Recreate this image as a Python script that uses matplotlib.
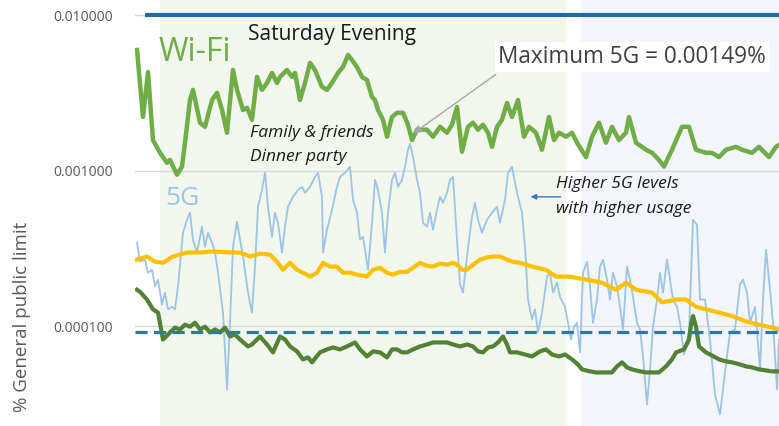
import matplotlib
matplotlib.use("Agg")
import matplotlib.pyplot as plt
from matplotlib.ticker import NullLocator

plt.rcParams['font.family'] = ['Open Sans', 'DejaVu Sans']

# time axis: sample index across the evening (0 .. 644)
wifi_t = [2, 8, 13, 18, 25, 32, 35, 42, 47, 50,
          55, 58, 65, 70, 77, 82, 87, 92, 98, 102,
          108, 112, 117, 122, 127, 132, 137, 142, 145, 152,
          157, 160, 165, 170, 175, 180, 187, 192, 197, 203,
          208, 213, 217, 222, 227, 232, 237, 240, 243, 248,
          252, 257, 262, 268, 273, 277, 282, 287, 292, 298,
          305, 312, 317, 322, 327, 333, 338, 343, 348, 353,
          357, 362, 367, 372, 377, 383, 389, 394, 401, 407,
          414, 419, 424, 431, 437, 442, 451, 457, 464, 471,
          477, 484, 491, 494, 501, 511, 517, 524, 529, 537,
          547, 554, 561, 571, 577, 584, 591, 601, 607, 617,
          624, 634, 641, 644]
wifi_v = [0.00596, 0.00221, 0.00430, 0.00157, 0.00130, 0.00112, 0.00117, 0.00094, 0.00106, 0.00151,
          0.00284, 0.00330, 0.00203, 0.00191, 0.00284, 0.00316, 0.00245, 0.00175, 0.00443, 0.00330,
          0.00245, 0.00253, 0.00212, 0.00400, 0.00330, 0.00366, 0.00424, 0.00366, 0.00400, 0.00443,
          0.00400, 0.00424, 0.00284, 0.00366, 0.00492, 0.00443, 0.00345, 0.00330, 0.00366, 0.00424,
          0.00463, 0.00553, 0.00514, 0.00463, 0.00400, 0.00382, 0.00297, 0.00284, 0.00245, 0.00212,
          0.00165, 0.00221, 0.00235, 0.00235, 0.00197, 0.00157, 0.00183, 0.00183, 0.00183, 0.00165,
          0.00191, 0.00175, 0.00197, 0.00256, 0.00132, 0.00191, 0.00203, 0.00183, 0.00197, 0.00175,
          0.00142, 0.00191, 0.00212, 0.00272, 0.00221, 0.00284, 0.00165, 0.00191, 0.00175, 0.00136,
          0.00221, 0.00157, 0.00175, 0.00165, 0.00175, 0.00151, 0.00122, 0.00165, 0.00203, 0.00151,
          0.00191, 0.00157, 0.00175, 0.00221, 0.00151, 0.00136, 0.00130, 0.00117, 0.00106, 0.00136,
          0.00191, 0.00191, 0.00136, 0.00130, 0.00130, 0.00122, 0.00136, 0.00142, 0.00136, 0.00130,
          0.00142, 0.00122, 0.00142, 0.00146]

g5_t = [2, 5, 10, 13, 17, 20, 23, 27, 30, 33,
        37, 40, 43, 48, 52, 55, 58, 62, 67, 70,
        73, 77, 80, 83, 88, 92, 95, 98, 102, 105,
        108, 113, 117, 120, 123, 127, 130, 133, 137, 140,
        143, 147, 150, 153, 158, 163, 167, 170, 175, 180,
        183, 187, 188, 192, 197, 202, 205, 210, 215, 218,
        222, 225, 228, 233, 237, 240, 243, 247, 250, 253,
        257, 260, 263, 267, 270, 273, 275, 278, 282, 285,
        288, 292, 295, 298, 302, 305, 308, 312, 315, 318,
        322, 325, 328, 332, 337, 340, 343, 347, 352, 357,
        362, 365, 370, 373, 377, 380, 383, 387, 390, 393,
        397, 400, 403, 407, 412, 415, 418, 422, 425, 430,
        433, 436, 439, 442, 445, 448, 452, 455, 458, 462,
        465, 468, 472, 475, 478, 482, 485, 488, 492, 495,
        498, 502, 505, 508, 512, 515, 518, 522, 525, 528,
        532, 535, 538, 542, 545, 549, 554, 558, 562, 565,
        570, 575, 580, 585, 590, 595, 600, 605, 608, 612,
        615, 620, 625, 628, 631, 635, 638, 642, 644]
g5_v = [0.000344, 0.000259, 0.000267, 0.000220, 0.000230, 0.000180, 0.000199, 0.000137, 0.000164, 0.000128,
        0.000133, 0.000128, 0.000180, 0.000398, 0.000482, 0.000535, 0.000359, 0.000297, 0.000435, 0.000323,
        0.000398, 0.000344, 0.000297, 0.000220, 0.000122, 0.0000391, 0.000105, 0.000323, 0.000468, 0.000359,
        0.000280, 0.000164, 0.000122, 0.000241, 0.000585, 0.000751, 0.000967, 0.000585, 0.000375, 0.000535,
        0.000461, 0.000297, 0.000435, 0.000585, 0.000678, 0.000751, 0.000786, 0.000719, 0.000786, 0.000911,
        0.000967, 0.000678, 0.000297, 0.000416, 0.000559, 0.000786, 0.000911, 0.000967, 0.001056, 0.000648,
        0.000535, 0.000359, 0.000375, 0.000230, 0.000461, 0.000871, 0.000751, 0.000535, 0.000297, 0.000535,
        0.000871, 0.000967, 0.000786, 0.000871, 0.001056, 0.001358, 0.00149, 0.001224, 0.000871, 0.000719,
        0.000461, 0.000435, 0.000535, 0.000416, 0.000559, 0.000678, 0.000620, 0.000719, 0.000871, 0.000911,
        0.000359, 0.000185, 0.000164, 0.000280, 0.000504, 0.000620, 0.000482, 0.000398, 0.000482, 0.000535,
        0.000585, 0.000461, 0.000648, 0.000967, 0.001056, 0.000834, 0.000678, 0.000535, 0.000323, 0.000148,
        0.000110, 0.000128, 0.0000909, 0.000122, 0.000208, 0.000220, 0.000164, 0.000190, 0.000154, 0.000133,
        0.000105, 0.0000819, 0.0000990, 0.000105, 0.0000677, 0.000220, 0.000259, 0.000180, 0.000105, 0.000148,
        0.000241, 0.000267, 0.000199, 0.000148, 0.000220, 0.000180, 0.000133, 0.0000950, 0.000241, 0.000199,
        0.000154, 0.000105, 0.0000950, 0.0000637, 0.0000313, 0.0000526, 0.0000990, 0.000148, 0.000220, 0.000164,
        0.000267, 0.000199, 0.000148, 0.000133, 0.000105, 0.0000656, 0.0000909, 0.000482, 0.000448, 0.000148,
        0.000148, 0.0000819, 0.0000363, 0.0000270, 0.0000503, 0.0000909, 0.0000950, 0.000185, 0.000199, 0.000164,
        0.000105, 0.000133, 0.0000526, 0.000148, 0.000310, 0.000171, 0.000105, 0.0000391, 0.0000819]

yellow_t = [2, 12, 20, 28, 38, 52, 65, 78, 98, 105,
            115, 125, 135, 142, 148, 155, 162, 168, 175, 182,
            188, 195, 202, 208, 215, 222, 232, 238, 245, 252,
            258, 265, 272, 278, 285, 292, 298, 305, 312, 318,
            322, 327, 332, 338, 345, 352, 358, 365, 372, 378,
            385, 397, 411, 421, 434, 451, 467, 481, 491, 501,
            517, 527, 541, 551, 561, 571, 584, 597, 611, 624,
            637, 644]
yellow_v = [0.000267, 0.000280, 0.000259, 0.000255, 0.000280, 0.000297, 0.000297, 0.000301, 0.000297, 0.000297,
            0.000280, 0.000292, 0.000288, 0.000259, 0.000230, 0.000255, 0.000230, 0.000220, 0.000208, 0.000220,
            0.000255, 0.000241, 0.000241, 0.000220, 0.000220, 0.000214, 0.000208, 0.000230, 0.000237, 0.000220,
            0.000214, 0.000223, 0.000223, 0.000237, 0.000255, 0.000244, 0.000241, 0.000252, 0.000248, 0.000255,
            0.000248, 0.000230, 0.000230, 0.000248, 0.000267, 0.000276, 0.000280, 0.000280, 0.000267, 0.000259,
            0.000255, 0.000241, 0.000230, 0.000208, 0.000208, 0.000199, 0.000190, 0.000171, 0.000190, 0.000171,
            0.000164, 0.000142, 0.000148, 0.000148, 0.000133, 0.000128, 0.000122, 0.000116, 0.000107, 0.000102,
            0.0000976, 0.0000950]

dkgreen_t = [2, 5, 12, 18, 23, 28, 35, 40, 45, 50,
             55, 60, 65, 70, 75, 80, 85, 90, 95, 100,
             105, 113, 117, 122, 125, 132, 138, 145, 150, 155,
             162, 168, 173, 177, 185, 192, 198, 205, 212, 220,
             225, 232, 238, 245, 252, 257, 262, 267, 272, 278,
             285, 292, 298, 305, 312, 318, 325, 332, 338, 343,
             348, 353, 358, 363, 368, 372, 375, 382, 390, 397,
             405, 411, 417, 424, 430, 437, 443, 447, 455, 461,
             469, 477, 482, 487, 492, 497, 505, 511, 517, 524,
             531, 537, 541, 549, 554, 556, 558, 561, 564, 571,
             577, 584, 591, 597, 605, 611, 617, 624, 631, 637,
             644]
dkgreen_v = [0.000171, 0.000166, 0.000148, 0.000128, 0.000122, 0.0000819, 0.0000909, 0.0000976, 0.0000950, 0.000102,
             0.0000990, 0.000105, 0.0000950, 0.0000990, 0.0000909, 0.0000950, 0.0000909, 0.0000976, 0.0000856, 0.0000882,
             0.0000819, 0.0000739, 0.0000761, 0.0000819, 0.0000856, 0.0000761, 0.0000677, 0.0000856, 0.0000819, 0.0000739,
             0.0000687, 0.0000610, 0.0000628, 0.0000584, 0.0000677, 0.0000707, 0.0000728, 0.0000707, 0.0000739, 0.0000784,
             0.0000707, 0.0000637, 0.0000687, 0.0000677, 0.0000628, 0.0000707, 0.0000707, 0.0000677, 0.0000677, 0.0000707,
             0.0000739, 0.0000761, 0.0000784, 0.0000784, 0.0000784, 0.0000761, 0.0000739, 0.0000761, 0.0000739, 0.0000687,
             0.0000677, 0.0000728, 0.0000739, 0.0000784, 0.0000856, 0.0000761, 0.0000677, 0.0000677, 0.0000656, 0.0000637,
             0.0000687, 0.0000707, 0.0000656, 0.0000637, 0.0000656, 0.0000610, 0.0000566, 0.0000526, 0.0000511, 0.0000503,
             0.0000503, 0.0000503, 0.0000550, 0.0000584, 0.0000542, 0.0000526, 0.0000511, 0.0000503, 0.0000503, 0.0000503,
             0.0000550, 0.0000610, 0.0000677, 0.0000707, 0.0000819, 0.000102, 0.000116, 0.0000990, 0.0000739, 0.0000677,
             0.0000646, 0.0000610, 0.0000592, 0.0000584, 0.0000566, 0.0000550, 0.0000542, 0.0000526, 0.0000518, 0.0000511,
             0.0000511]

avg_level = 0.000092      # dashed blue reference
top_level = 0.01          # solid blue line at top
top_start = 10
evening_span = (25, 431)  # green shaded period
late_span = (446, 644)    # blue shaded period
yticks = [0.01, 0.001, 0.0001]
ytick_labels = ["0.010000", "0.001000", "0.000100"]

fig = plt.figure(figsize=(7.79, 4.26), dpi=100)
ax = fig.add_axes([135 / 779, 0, 644 / 779, 1])
ax.set_yscale('log')
ax.set_xlim(0, 644)
ax.set_ylim(2.275e-5, 0.01249)

ax.axvspan(*evening_span, color='#f1f7ec', lw=0, zorder=0)
ax.axvspan(*late_span, color='#f2f6fb', lw=0, zorder=0)

for s in ax.spines.values():
    s.set_visible(False)
ax.set_yticks(yticks)
ax.set_yticklabels(ytick_labels)
ax.yaxis.set_minor_locator(NullLocator())
ax.tick_params(axis='y', length=0, pad=16, labelsize=10, labelcolor='#595959')
ax.set_xticks([])
ax.yaxis.grid(True, color='#d9d9d9', lw=1)
ax.set_axisbelow(True)

ax.plot(g5_t, g5_v, color='#9dc3e6', lw=1.3, zorder=2)
ax.plot(yellow_t, yellow_v, color='#ffc000', lw=3, zorder=3)
ax.plot(dkgreen_t, dkgreen_v, color='#548235', lw=3, zorder=3)
ax.axhline(avg_level, color='#2e75b6', lw=2.3, dashes=(3.8, 2.0), zorder=4)
ax.plot(wifi_t, wifi_v, color='#70ad47', lw=3.2, zorder=4)
ax.hlines(top_level, top_start, 644, color='#1f6aa8', lw=3, zorder=4)

tr = ax.transAxes
ax.text(0.036, 0.876, "Wi-Fi", transform=tr, color='#70ad47', fontsize=23, va='center')
ax.text(0.047, 0.535, "5G", transform=tr, color='#9dc3e6', fontsize=19, va='center')
ax.text(0.176, 0.920, "Saturday Evening", transform=tr, color='#1a1a1a', fontsize=15, va='center')
ax.text(0.564, 0.866, "Maximum 5G = 0.00149%", transform=tr, color='#404040', fontsize=16.3,
        va='center', bbox=dict(facecolor='white', edgecolor='none', pad=2), zorder=6)
ax.annotate('', xy=(0.4286, 0.683), xytext=(0.5637, 0.829), xycoords=tr, textcoords=tr,
            arrowprops=dict(arrowstyle='-|>', color='#a6a6a6', lw=1, mutation_scale=12), zorder=6)
note_kw = dict(transform=tr, style='italic', fontsize=12.5, va='center', color='#1a1a1a')
ax.text(0.179, 0.688, "Family & friends", **note_kw)
ax.text(0.179, 0.632, "Dinner party", **note_kw)
ax.text(0.654, 0.568, "Higher 5G levels", **note_kw)
ax.text(0.654, 0.509, "with higher usage", **note_kw)
ax.annotate('', xy=(0.610, 0.538), xytext=(0.665, 0.538), xycoords=tr, textcoords=tr,
            arrowprops=dict(arrowstyle='-|>', color='#4472c4', lw=1, mutation_scale=8), zorder=6)

fig.text(22 / 779, 1 - 317 / 426, "% General public limit", rotation=90, fontsize=13.5,
         color='#595959', ha='center', va='center')

fig.savefig("out.png", dpi=100)
